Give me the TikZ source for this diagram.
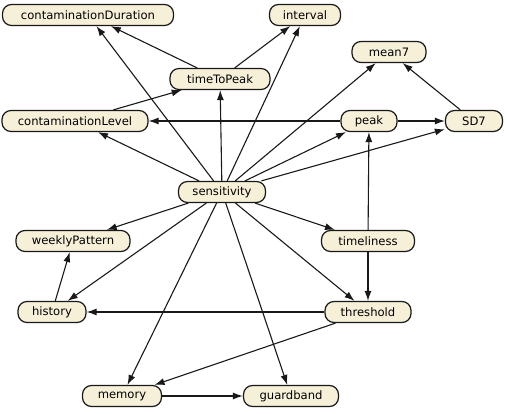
\documentclass[tikz,border=0pt]{standalone}
\usepackage{fontspec}
\setmainfont{DejaVu Sans}
\usepackage{tikz}
\usetikzlibrary{arrows.meta, positioning}
\definecolor{nodebeige}{RGB}{247, 240, 217}
\definecolor{edgedark}{RGB}{25, 25, 25}
\tikzset{
  >=Latex,
  deparrow/.style={-{Latex[length=10pt, width=7pt]}, line width=1.1pt, edgedark}
}

\begin{document}
\begin{tikzpicture}[
    x=1pt, y=-1pt,
    var/.style={rectangle, draw=edgedark, fill=nodebeige, line width=1.2pt, rounded corners=9pt, minimum height=21pt, inner xsep=8pt, inner ysep=2pt, font=\fontsize{11.6}{13}\selectfont}
]
    \useasboundingbox (0,0) rectangle (507,414);

    % variables
    \node[var, minimum width=171pt] (cdur) at (88, 15) {contaminationDuration};
    \node[var, minimum width=71pt] (interval) at (305, 15) {interval};
    \node[var, minimum width=74pt] (mean7) at (389, 52) {mean7};
    \node[var, minimum width=100pt] (ttp) at (220, 79) {timeToPeak};
    \node[var, minimum width=146pt] (clevel) at (75, 121) {contaminationLevel};
    \node[var, minimum width=56pt] (peak) at (369, 121) {peak};
    \node[var, minimum width=57pt] (sd7) at (474, 121) {SD7};
    \node[var, minimum width=87pt] (sens) at (222, 192) {sensitivity};
    \node[var, minimum width=114pt] (weekly) at (73, 241) {weeklyPattern};
    \node[var, minimum width=93pt] (timely) at (368, 241) {timeliness};
    \node[var, minimum width=68pt] (history) at (52, 312) {history};
    \node[var, minimum width=86pt] (thresh) at (368, 312) {threshold};
    \node[var, minimum width=79pt] (memory) at (122, 396) {memory};
    \node[var, minimum width=95pt] (guard) at (291, 396) {guardband};

    % edges out of sensitivity
    \foreach \t in {cdur, interval, ttp, clevel, mean7, peak, sd7, weekly, timely, history, thresh, memory, guard}
        \draw[deparrow] (sens) -- (\t);

    % remaining edges
    \draw[deparrow] (ttp) -- (cdur);
    \draw[deparrow] (ttp) -- (interval);
    \draw[deparrow] (clevel) -- (ttp);
    \draw[deparrow] (peak) -- (clevel);
    \draw[deparrow] (peak) -- (sd7);
    \draw[deparrow] (sd7) -- (mean7);
    \draw[deparrow] (timely) -- (peak);
    \draw[deparrow] (timely) -- (thresh);
    \draw[deparrow] (history) -- (weekly);
    \draw[deparrow] (thresh) -- (history);
    \draw[deparrow] (thresh) -- (memory);
    \draw[deparrow] (memory) -- (guard);
\end{tikzpicture}
\end{document}
